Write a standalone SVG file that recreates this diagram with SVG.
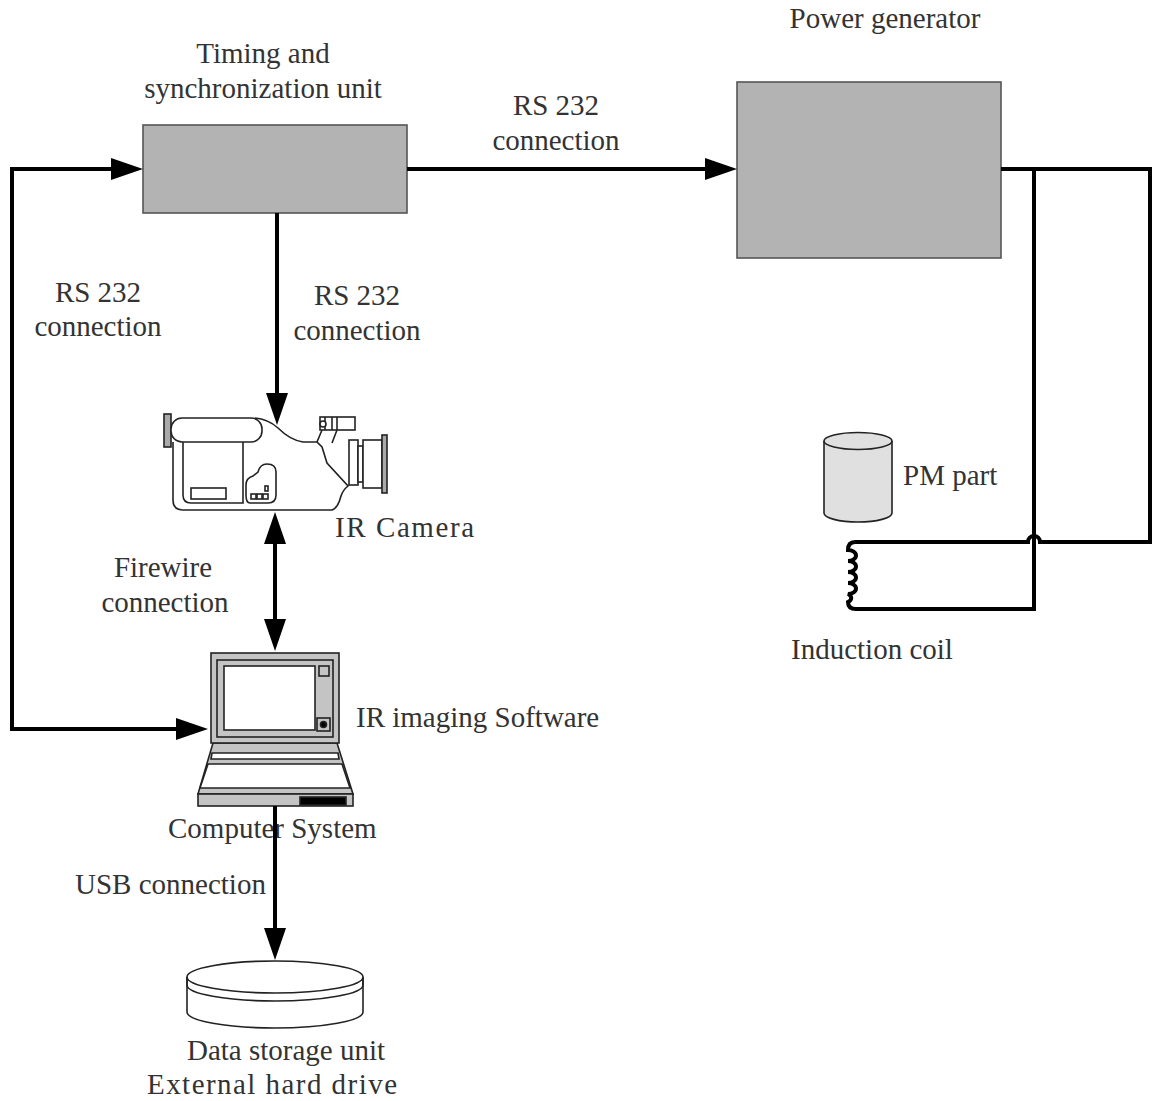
<svg xmlns="http://www.w3.org/2000/svg" width="1153" height="1101" viewBox="0 0 1153 1101">
  <style>
    .lbl { font-family: "Liberation Serif", "Times New Roman", serif; font-size: 29px; fill: #333; }
    .mid { text-anchor: middle; }
    .box { fill: #b3b3b3; stroke: #555; stroke-width: 1.6; }
    .wire { fill: none; stroke: #000; stroke-width: 4; }
    .ink { stroke: #222; stroke-width: 1.6; }
  </style>
  <defs>
    <marker id="arrow" markerUnits="userSpaceOnUse" markerWidth="34" markerHeight="24" refX="4" refY="11" orient="auto-start-reverse">
      <path d="M0,0 L32,11 L0,22 Z" fill="#000"/>
    </marker>
  </defs>
  <rect width="1153" height="1101" fill="#fff"/>

  <!-- Timing and synchronization unit -->
  <g id="timing-unit">
    <rect class="box" x="143" y="125" width="264" height="88"/>
    <text class="lbl mid" x="263" y="63">Timing and</text>
    <text class="lbl mid" x="263" y="98">synchronization unit</text>
  </g>

  <!-- Power generator -->
  <g id="power-generator">
    <rect class="box" x="737" y="82" width="264" height="176"/>
    <text class="lbl mid" x="885" y="28">Power generator</text>
  </g>

  <!-- IR camera -->
  <g id="ir-camera" fill="#fff" class="ink">
    <rect x="164" y="414" width="7" height="33" fill="#aaa"/>
    <path d="M173,442 V500 Q173,510 183,510 H332 Q338,508 341,496 Q343,490 348,486 L327,463 L322,447 L317,442 H303 Q290,440 278,428 Q268,419 255,418"/>
    <rect x="171" y="418" width="91" height="24" rx="11"/>
    <path d="M183,442 V495 Q183,503 191,503 H243 V442" fill="none"/>
    <rect x="191" y="488" width="35" height="11"/>
    <path d="M250,503 Q246,503 246,495 V485 Q246,478 253,476 L258,472 Q260,464 267,464 Q276,464 276,472 V495 Q276,503 268,503 Z"/>
    <rect x="251" y="494" width="5" height="5"/>
    <rect x="257" y="494" width="5" height="5"/>
    <rect x="263" y="494" width="5" height="5"/>
    <rect x="265" y="486" width="3" height="5"/>
    <!-- viewfinder -->
    <path d="M322,430 L317,442 M337,430 L332,443" fill="none"/>
    <rect x="320" y="417" width="35" height="13"/>
    <path d="M325,417 V430 M332,417 V430 M337,417 V430" fill="none"/>
    <circle cx="323" cy="424" r="3"/>
    <!-- lens -->
    <rect x="349" y="440" width="9" height="45"/>
    <rect x="358" y="446" width="5" height="36"/>
    <rect x="363" y="440" width="19" height="48"/>
    <rect x="382" y="435" width="5" height="58" fill="#aaa"/>
    <text class="lbl" x="335" y="537" textLength="139" lengthAdjust="spacing" fill="#333" stroke="none">IR Camera</text>
  </g>

  <!-- Computer system -->
  <g id="computer" class="ink">
    <path d="M213,743 H337 L353,794 H198 Z" fill="#c4c4c4"/>
    <path d="M212,753 H338 L339,759 H211 Z" fill="#fff"/>
    <path d="M208,764 H342 L350,788 H200 Z" fill="#fff"/>
    <rect x="198" y="794" width="155" height="12" fill="#c4c4c4"/>
    <rect x="300" y="797" width="46" height="8" fill="#000"/>
    <rect x="211" y="653" width="128" height="90" fill="#c4c4c4"/>
    <rect x="217" y="660" width="116" height="77" fill="none"/>
    <rect x="224" y="666" width="91" height="64" fill="#fff"/>
    <rect x="319" y="666" width="10" height="10" fill="#c4c4c4"/>
    <rect x="317" y="718" width="13" height="13" fill="#c4c4c4"/>
    <circle cx="323.5" cy="724.5" r="3" fill="#000"/>
    <text class="lbl" x="356" y="727" stroke="none">IR imaging Software</text>
    <text class="lbl" x="168" y="838" stroke="none">Computer System</text>
  </g>

  <!-- External hard drive -->
  <g id="hard-drive" class="ink" fill="#fff">
    <path d="M187,977 V1012 A88,16 0 0 0 363,1012 V977"/>
    <path d="M187,977 V985 A88,16 0 0 0 363,985 V977" fill="none"/>
    <ellipse cx="275" cy="977" rx="88" ry="16"/>
    <text class="lbl mid" x="286" y="1060" stroke="none">Data storage unit</text>
    <text class="lbl mid" x="272" y="1094" textLength="250" lengthAdjust="spacing" stroke="none">External hard drive</text>
  </g>

  <!-- PM part -->
  <g id="pm-part" class="ink">
    <path d="M824,441 V513 A34,9 0 0 0 892,513 V441" fill="#e0e0e0"/>
    <ellipse cx="858" cy="441" rx="34" ry="8.5" fill="#e0e0e0"/>
    <text class="lbl" x="903" y="485" stroke="none">PM part</text>
  </g>

  <!-- Induction coil -->
  <g id="induction-coil">
    <path class="wire" d="M860,542 H855 Q848,542 848,550 A8,5.5 0 0 1 848,561 A8,5.5 0 0 1 848,572 A8,5.5 0 0 1 848,583 A8,5.5 0 0 1 848,594 A8,5 0 0 1 848,602 Q848,609 856,609 H860"/>
    <text class="lbl" x="791" y="659">Induction coil</text>
  </g>

  <!-- Connectors and their labels -->
  <g id="connectors">
    <path class="wire" d="M407,169 H709" marker-end="url(#arrow)"/>
    <path class="wire" d="M115,169 H12 V729 H180" marker-start="url(#arrow)" marker-end="url(#arrow)"/>
    <path class="wire" d="M277,213 V397" marker-end="url(#arrow)"/>
    <path class="wire" d="M275,540 V623" marker-start="url(#arrow)" marker-end="url(#arrow)"/>
    <path class="wire" d="M275,806 V932" marker-end="url(#arrow)"/>
    <path class="wire" d="M1001,169 H1150 V542 H1040 A6,6 0 0 0 1028,542 H858"/>
    <path class="wire" d="M858,609 H1034 V169"/>

    <text class="lbl mid" x="556" y="115">RS 232</text>
    <text class="lbl mid" x="556" y="150">connection</text>
    <text class="lbl mid" x="98" y="302">RS 232</text>
    <text class="lbl mid" x="98" y="336">connection</text>
    <text class="lbl mid" x="357" y="305">RS 232</text>
    <text class="lbl mid" x="357" y="340">connection</text>
    <text class="lbl mid" x="163" y="577">Firewire</text>
    <text class="lbl mid" x="165" y="612">connection</text>
    <text class="lbl" x="75" y="894">USB connection</text>
  </g>
</svg>
